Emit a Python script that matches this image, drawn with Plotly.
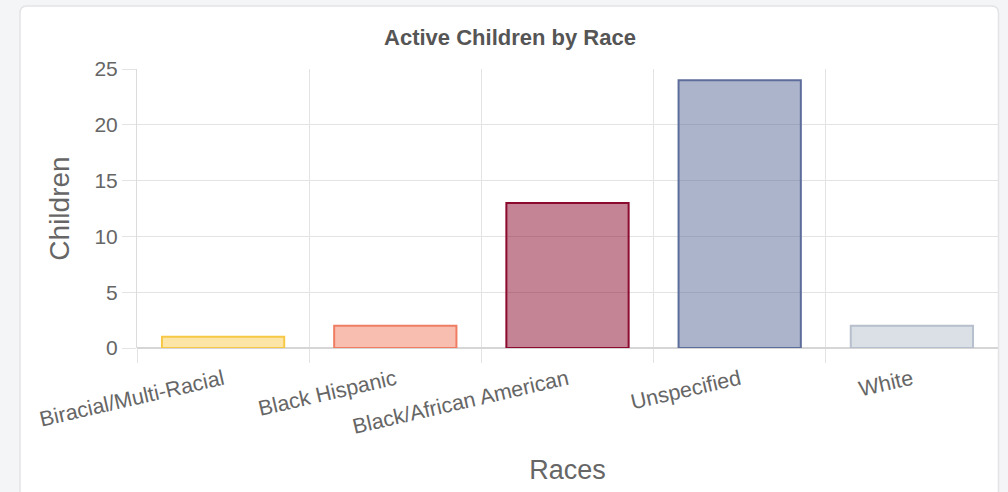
import plotly.graph_objects as go

races = ["Biracial/Multi-Racial", "Black Hispanic", "Black/African American", "Unspecified", "White"]
children = [1, 2, 13, 24, 2]
border_colors = ["rgb(247,200,70)", "rgb(239,125,97)", "rgb(139,10,46)", "rgb(93,109,155)", "rgb(183,191,205)"]
fill_colors = ["rgba(251,211,110,0.6)", "rgba(242,128,100,0.5)", "rgba(139,10,46,0.5)", "rgba(90,106,152,0.5)", "rgba(183,191,205,0.5)"]

W, H = 1008, 492
L, R, T, B = 137, 998, 69, 348

def px(x):
    return (x - L) / (R - L)

def py(y):
    return (B - y) / (B - T)

fig = go.Figure(go.Bar(
    x=races, y=children,
    marker=dict(color=fill_colors, line=dict(color=border_colors, width=2)),
    hoverinfo="skip",
))

# card background
x0, x1, y0, y1, r = 20, 998.5, 6, 520, 7
path = (f"M {px(x0)},{py(y1)} L {px(x0)},{py(y0 + r)} "
        f"Q {px(x0)},{py(y0)} {px(x0 + r)},{py(y0)} "
        f"L {px(x1 - r)},{py(y0)} Q {px(x1)},{py(y0)} {px(x1)},{py(y0 + r)} "
        f"L {px(x1)},{py(y1)} Z")

fig.update_layout(
    width=W, height=H,
    margin=dict(l=L, r=W - R, t=T, b=H - B, pad=0),
    paper_bgcolor="#f4f5f7",
    plot_bgcolor="rgba(0,0,0,0)",
    font=dict(family="Liberation Sans, Arial, sans-serif", color="#666666"),
    title=dict(text="<b>Active Children by Race</b>", xref="container", x=510 / W, xanchor="center",
               yref="container", y=1 - 37 / H, yanchor="middle",
               font=dict(size=22, color="#555555")),
    bargap=0.29,
    showlegend=False,
    shapes=[dict(type="path", path=path, xref="paper", yref="paper",
                 fillcolor="white", line=dict(color="#e3e4e6", width=1.5), layer="below")],
    xaxis=dict(
        tickson="boundaries", showgrid=True, gridcolor="#e3e3e3", gridwidth=1,
        ticks="outside", ticklen=14, tickcolor="#e3e3e3",
        tickangle=-13, tickfont=dict(size=21.5, color="#666666"),
        ticklabelstandoff=14,
        showline=False, zeroline=False, automargin=False,
        title=dict(text="Races", font=dict(size=27, color="#666666"), standoff=22),
        fixedrange=True,
    ),
    yaxis=dict(
        range=[0, 25], dtick=5, showgrid=True, gridcolor="#e3e3e3", gridwidth=1,
        ticks="outside", ticklen=14, tickcolor="#e3e3e3",
        tickfont=dict(size=21, color="#666666"),
        showline=True, linecolor="#dcdcdc", linewidth=1, mirror=False,
        zeroline=True, zerolinecolor="#d6d6d6", zerolinewidth=1.5, automargin=False,
        title=dict(text="Children", font=dict(size=28, color="#666666"), standoff=16),
        fixedrange=True,
    ),
)

fig.write_html("out.html", config={"displayModeBar": False})
